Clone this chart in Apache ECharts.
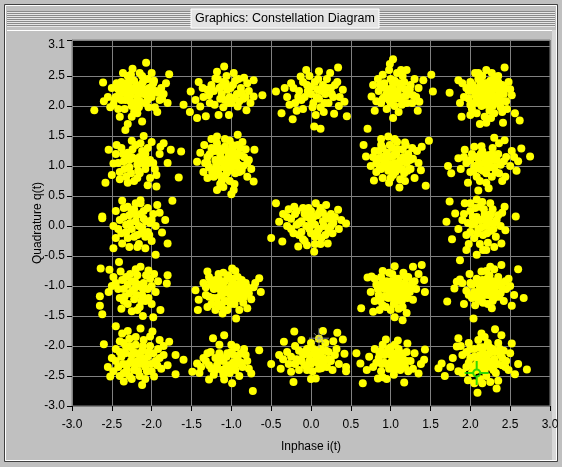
<!DOCTYPE html>
<html>
<head>
<meta charset="utf-8">
<script src="https://cdn.jsdelivr.net/npm/echarts@6/dist/echarts.min.js"></script>
<style>
html,body{margin:0;padding:0;background:#c0c0c0;}
#chart{width:562px;height:467px;}
</style>
</head>
<body>
<div id="chart"></div>
<script>
// ---- data ----
const xTicks = [-3.0,-2.5,-2.0,-1.5,-1.0,-0.5,0.0,0.5,1.0,1.5,2.0,2.5,3.0];
const yTickLabels = [-3.0,-2.5,-2.0,-1.5,-1.0,-0.5,0.0,0.5,1.0,1.5,2.0,2.5,3.1];

const ptsTopA = [[-2.72,1.93],[-2.61,2.39],[-2.5,2.3],[-2.45,2.15],[-2.48,2.02],[-2.42,1.95],[-2.38,2.4],[-2.35,2.25],[-2.33,2.1],[-2.3,2.5],[-2.28,2.32],[-2.26,2.18],[-2.25,2.0],[-2.22,2.42],[-2.2,2.28],[-2.18,2.12],[-2.16,1.98],[-2.15,2.55],[-2.13,2.35],[-2.1,2.2],[-2.08,2.05],[-2.07,2.72],[-2.05,2.45],[-2.03,2.3],[-2.0,2.15],[-1.98,2.38],[-1.95,2.25],[-1.93,1.9],[-1.9,2.1],[-1.88,2.3],[-1.85,2.2],[-1.8,2.05],[-1.78,2.53],[-1.82,2.38],[-2.33,1.6],[-2.3,1.7],[-2.25,1.82],[-2.12,1.74],[-2.18,1.88],[-2.4,1.82],[-2.55,2.15],[-2.52,1.98],[-2.36,2.55],[-2.24,2.62],[-2.12,2.5],[-2.0,2.55],[-2.42,2.28],[-2.27,2.08],[-2.14,2.25],[-2.05,2.1],[-1.96,1.98],[-2.38,2.1],[-2.2,1.95],[-2.6,2.08],
  [-2.4,2.2],[-2.36,2.32],[-2.31,2.18],[-2.29,2.4],[-2.24,2.25],[-2.21,2.05],[-2.19,2.35],[-2.17,2.18],[-2.11,2.4],[-2.09,2.28],[-2.06,2.17],[-2.04,1.98],[-2.01,2.25],[-1.97,2.42],[-1.92,2.22],[-2.44,2.38],[-2.34,1.95],[-2.22,1.9],[-2.15,2.08],[-2.28,2.25],[-2.0,2.32],[-1.87,2.12],[-2.47,2.1],[-2.26,2.52]];
const ptsTopB = [[-1.6,2.02],[-1.51,2.24],[-1.52,1.9],[-1.43,1.8],[-1.32,1.83],[-1.39,1.99],[-1.41,2.4],[-1.3,2.27],[-1.35,2.15],[-1.21,2.02],[-1.18,2.57],[-1.09,2.66],[-1.2,2.46],[-1.25,2.35],[-1.15,2.3],[-1.1,2.4],[-1.05,2.27],[-1.02,2.15],[-1.08,2.1],[-0.98,2.35],[-0.97,2.55],[-0.93,2.2],[-0.88,2.3],[-0.84,2.47],[-0.85,2.12],[-0.78,2.25],[-0.72,2.43],[-0.61,2.18],[-0.72,2.16],[-0.81,1.93],[-0.92,1.99],[-1.03,1.85],[-1.16,1.85],[-1.12,2.2],[-1.0,2.05],[-0.95,2.42],[-1.06,2.5],[-1.14,2.12],[-0.9,2.08],[-1.28,2.18],[-0.8,2.38],
  [-1.22,2.25],[-1.17,2.45],[-1.13,2.32],[-1.07,2.38],[-1.04,2.05],[-1.01,2.3],[-0.96,2.12],[-0.91,2.45],[-0.87,2.22],[-0.82,2.15],[-1.27,2.05],[-1.45,2.1],[-0.76,2.05],[-1.1,1.98],[-1.36,2.3]];
const ptsTopC = [[-0.44,2.24],[-0.37,1.88],[-0.23,1.78],[-0.25,2.38],[-0.13,2.49],[-0.3,2.15],[-0.2,2.05],[-0.15,2.25],[-0.1,1.95],[-0.05,2.35],[0.0,2.2],[0.03,2.05],[0.05,2.4],[0.08,2.28],[0.1,2.12],[0.12,1.98],[-0.08,2.15],[-0.02,2.5],[0.15,2.35],[0.18,2.2],[0.2,2.45],[0.22,2.05],[0.25,2.3],[0.28,2.15],[0.34,2.64],[0.4,2.27],[0.42,2.07],[0.45,1.83],[0.29,1.87],[0.12,1.62],[0.04,1.66],[0.1,2.58],[-0.18,1.92],[0.33,2.4],[0.35,2.0],[-0.33,2.3],[0.06,1.85],[-0.06,2.6],[0.16,1.9],[0.24,2.55],
  [-0.22,2.3],[-0.12,2.1],[-0.1,2.4],[0.0,2.32],[0.02,1.98],[0.07,2.15],[0.13,2.25],[0.17,2.05],[0.2,2.3],[0.26,2.2],[0.3,2.35],[-0.04,2.25],[-0.16,2.15],[0.09,2.45],[0.36,2.15],[-0.27,2.02]];
const ptsTopD = [[1.03,2.78],[0.99,2.7],[1.2,2.6],[0.9,2.52],[1.51,2.52],[1.41,2.43],[1.53,2.24],[1.36,2.07],[1.34,1.92],[1.03,1.8],[0.8,1.92],[0.76,2.16],[0.78,2.35],[0.71,1.62],[0.85,2.25],[0.88,2.05],[0.92,2.38],[0.95,2.2],[0.98,2.1],[1.0,2.45],[1.02,2.3],[1.05,2.0],[1.07,2.2],[1.1,2.38],[1.12,2.12],[1.15,2.5],[1.18,2.28],[1.2,2.05],[1.25,2.35],[1.28,2.18],[1.3,2.45],[0.95,1.95],[1.1,1.9],[0.84,2.45],[1.08,2.55],[1.22,2.22],[0.93,2.3],[1.0,2.05],[1.15,2.15],[1.35,2.3],[0.9,2.12],
  [0.87,2.35],[0.92,2.15],[0.96,2.28],[1.0,2.2],[1.03,2.38],[1.06,2.12],[1.09,2.25],[1.12,2.32],[1.14,2.02],[1.17,2.4],[1.2,2.18],[1.24,2.28],[0.98,2.6],[1.27,2.05],[0.82,2.08],[1.32,2.15],[1.05,2.42],[1.13,2.6]];
const ptsTopE = [[2.43,2.64],[1.74,2.22],[1.85,2.43],[1.89,1.82],[2.12,1.7],[2.2,1.72],[2.41,1.72],[2.62,1.76],[2.56,1.88],[2.52,2.18],[2.48,2.4],[2.27,2.55],[2.06,2.55],[1.87,2.05],[1.95,2.3],[1.98,2.12],[2.0,2.4],[2.02,1.95],[2.05,2.25],[2.08,2.1],[2.1,2.45],[2.12,2.3],[2.14,2.0],[2.16,2.18],[2.18,2.38],[2.2,2.25],[2.22,2.1],[2.24,1.92],[2.26,2.32],[2.28,2.18],[2.3,2.45],[2.32,2.05],[2.34,2.28],[2.36,2.15],[2.38,1.98],[2.4,2.35],[2.42,2.2],[2.45,2.08],[2.15,2.5],[2.25,2.42],[2.05,2.05],[2.3,1.88],[2.0,1.85],[2.35,2.5],[2.1,2.2],[2.22,2.3],[2.28,2.0],[1.92,2.15],[2.46,1.95],[2.18,1.82],
  [1.98,2.25],[2.0,2.02],[2.03,2.35],[2.06,2.18],[2.09,2.3],[2.11,2.05],[2.13,2.4],[2.15,2.12],[2.17,2.28],[2.19,2.02],[2.21,2.38],[2.23,2.18],[2.25,2.05],[2.27,2.25],[2.29,2.38],[2.31,2.12],[2.33,2.32],[2.37,2.22],[2.39,2.08],[2.43,2.3],[2.2,2.6],[2.1,2.55],[2.35,2.4],[2.4,1.9],[2.08,1.88],[1.9,2.38],[2.5,2.28],[2.26,1.8]];

const ptsUpA = [[-2.1,1.5],[-1.76,1.27],[-1.63,1.24],[-1.66,0.81],[-1.94,0.85],[-1.94,0.66],[-2.58,0.72],[-2.54,1.27],[-2.48,1.04],[-1.89,1.32],[-2.02,1.1],[-2.45,1.2],[-2.4,0.9],[-2.38,1.3],[-2.35,1.08],[-2.32,0.82],[-2.3,1.22],[-2.28,0.98],[-2.25,1.15],[-2.22,0.75],[-2.2,1.35],[-2.18,1.02],[-2.15,0.88],[-2.12,1.25],[-2.1,1.12],[-2.08,0.95],[-2.05,1.3],[-2.02,0.8],[-2.0,1.4],[-1.98,1.05],[-2.4,0.78],[-2.25,1.42],[-2.15,1.15],[-1.9,1.2],[-2.5,0.85],[-2.32,1.12],[-2.05,0.68],[-1.85,1.38],
  [-2.42,1.05],[-2.36,1.2],[-2.34,0.95],[-2.28,1.1],[-2.26,0.88],[-2.24,1.28],[-2.2,1.12],[-2.17,0.92],[-2.14,1.38],[-2.12,1.05],[-2.08,1.2],[-2.3,0.72],[-2.18,0.8],[-1.96,0.95],[-2.05,1.05],[-2.44,1.35],[-1.8,1.05]];
const ptsUpB = [[-1.18,1.49],[-0.92,1.52],[-0.71,1.27],[-0.72,0.74],[-1.0,0.53],[-1.18,0.6],[-1.43,1.07],[-1.39,1.22],[-1.35,0.9],[-1.3,1.15],[-1.28,0.98],[-1.25,1.3],[-1.22,0.82],[-1.2,1.1],[-1.18,1.38],[-1.16,0.95],[-1.14,1.2],[-1.12,0.75],[-1.1,1.05],[-1.08,1.32],[-1.06,0.88],[-1.04,1.15],[-1.02,1.42],[-1.0,0.98],[-0.98,1.25],[-0.96,0.7],[-0.94,1.08],[-0.92,1.35],[-0.9,0.9],[-0.88,1.18],[-0.85,1.0],[-0.82,1.28],[-0.8,0.82],[-0.78,1.1],[-1.1,0.65],[-1.3,0.8],[-1.05,1.0],[-1.15,1.1],[-0.95,1.0],[-1.2,0.95],[-0.86,1.4],[-1.25,1.45],[-0.75,0.95],[-1.0,1.2],[-1.08,0.8],[-1.34,1.35],
  [-1.3,1.05],[-1.27,1.2],[-1.24,0.9],[-1.21,1.25],[-1.19,1.02],[-1.17,1.3],[-1.15,0.85],[-1.13,1.12],[-1.11,1.28],[-1.09,0.98],[-1.07,1.1],[-1.05,1.25],[-1.03,0.92],[-1.01,1.08],[-0.99,1.35],[-0.97,1.12],[-0.95,0.88],[-0.93,1.2],[-0.91,1.02],[-0.89,1.3],[-0.87,0.92],[-0.84,1.15],[-1.02,0.75],[-1.14,0.7],[-1.33,1.05],[-1.08,1.45],[-0.8,1.05],[-0.97,0.6]];
const ptsUpD = [[0.66,1.35],[0.97,1.49],[1.18,1.39],[1.48,1.42],[1.39,1.32],[1.38,0.93],[1.44,0.67],[1.11,0.64],[0.79,0.76],[0.69,1.16],[0.75,1.0],[0.8,1.25],[0.82,0.9],[0.85,1.12],[0.88,1.35],[0.9,0.8],[0.92,1.05],[0.95,1.22],[0.97,0.92],[1.0,1.15],[1.02,1.3],[1.03,0.85],[1.05,1.05],[1.07,1.2],[1.1,0.95],[1.12,1.1],[1.15,1.28],[1.17,0.88],[1.2,1.05],[1.22,1.2],[1.25,0.95],[1.28,1.12],[1.3,0.8],[0.98,0.72],[0.86,1.0],[1.08,1.4],[1.33,1.25],[0.95,1.05],[1.05,0.95],[0.9,1.15],[1.18,0.75],
  [0.82,1.05],[0.85,1.25],[0.88,0.95],[0.9,1.3],[0.93,1.12],[0.96,0.98],[0.99,1.35],[1.01,1.02],[1.04,1.18],[1.06,0.9],[1.09,1.28],[1.11,1.05],[1.14,0.95],[1.16,1.15],[1.19,1.35],[1.21,0.92],[1.24,1.1],[1.27,1.3],[0.78,1.15],[1.0,0.8],[1.12,0.78],[1.35,1.05],[0.88,1.45],[1.05,1.45]];
const ptsUpE = [[2.3,1.47],[2.43,1.43],[2.64,1.29],[2.75,1.16],[2.58,0.92],[2.44,0.82],[2.23,0.63],[2.1,0.59],[1.97,0.72],[1.72,1.0],[1.76,0.88],[1.85,1.13],[1.93,1.27],[2.14,1.33],[1.95,1.05],[2.0,0.9],[2.02,1.2],[2.05,1.0],[2.08,0.82],[2.1,1.12],[2.12,0.95],[2.15,1.25],[2.18,1.05],[2.2,0.88],[2.22,1.18],[2.25,0.98],[2.28,1.3],[2.3,1.1],[2.32,0.9],[2.35,1.2],[2.38,1.02],[2.4,0.75],[2.45,1.15],[2.5,1.0],[2.52,1.25],[2.2,0.72],[2.05,1.32],[1.88,0.95],[2.36,1.38],[2.6,1.08],
  [2.0,1.1],[2.04,0.92],[2.07,1.15],[2.1,1.02],[2.13,1.2],[2.16,0.92],[2.19,1.12],[2.21,0.98],[2.24,1.08],[2.27,1.2],[2.3,0.98],[2.33,1.1],[2.36,0.88],[2.42,1.08],[2.27,0.82],[2.12,0.75],[1.92,1.15],[2.55,1.15]];

const ptsMidA = [[-2.62,0.13],[-2.48,0.0],[-2.48,-0.37],[-2.37,-0.29],[-2.08,-0.37],[-1.95,-0.48],[-1.8,-0.29],[-1.87,-0.11],[-1.83,0.1],[-1.93,0.35],[-2.14,0.38],[-2.37,0.42],[-2.14,0.43],[-1.74,0.42],[-2.62,0.16],[-2.45,0.25],[-2.4,0.1],[-2.38,-0.12],[-2.35,0.3],[-2.32,0.02],[-2.3,-0.2],[-2.28,0.18],[-2.25,-0.05],[-2.22,0.28],[-2.2,0.08],[-2.18,-0.15],[-2.16,-0.3],[-2.14,0.2],[-2.12,-0.02],[-2.1,0.12],[-2.08,-0.18],[-2.05,0.3],[-2.02,0.05],[-2.0,-0.25],[-1.98,0.2],[-2.28,-0.35],[-2.05,-0.1],[-2.2,0.38],
  [-2.42,-0.05],[-2.35,0.15],[-2.32,-0.1],[-2.27,0.05],[-2.25,0.25],[-2.22,-0.18],[-2.19,0.18],[-2.16,0.0],[-2.13,-0.12],[-2.1,0.25],[-2.07,0.08],[-2.03,-0.15],[-2.0,0.1],[-1.95,0.0],[-2.3,0.32],[-2.18,-0.35],[-1.9,0.22],[-2.45,-0.2]];
const ptsMidC = [[0.19,0.35],[0.34,0.27],[0.44,0.04],[0.27,-0.12],[0.21,-0.29],[0.04,-0.43],[-0.44,0.38],[-0.4,0.07],[-0.5,-0.2],[-0.36,-0.26],[-0.16,-0.34],[-0.21,0.32],[-0.3,0.15],[-0.25,-0.05],[-0.2,0.2],[-0.15,-0.15],[-0.12,0.08],[-0.1,0.3],[-0.08,-0.25],[-0.05,0.15],[-0.02,-0.05],[0.0,0.25],[0.02,0.05],[0.05,-0.18],[0.08,0.18],[0.1,-0.05],[0.12,0.3],[0.15,0.08],[0.18,-0.15],[0.22,0.12],[0.25,0.0],[0.3,0.15],[0.35,-0.05],[-0.05,-0.32],[0.12,-0.3],[-0.28,0.28],[0.06,0.38],[-0.18,0.02],[0.0,0.1],[0.15,0.22],
  [-0.3,0.0],[-0.25,0.12],[-0.22,-0.12],[-0.18,0.25],[-0.15,0.05],[-0.12,-0.1],[-0.08,0.2],[-0.06,0.0],[-0.03,0.3],[0.0,-0.12],[0.03,0.15],[0.05,0.02],[0.08,-0.1],[0.1,0.22],[0.13,-0.2],[0.16,0.0],[0.19,0.15],[0.22,-0.08],[0.25,0.2],[0.28,0.05],[-0.1,-0.22],[0.05,-0.3],[-0.35,0.2],[0.38,0.1]];
const ptsMidE = [[1.74,0.41],[1.93,0.38],[1.7,0.07],[1.81,0.21],[1.77,-0.22],[1.95,-0.4],[2.08,-0.48],[2.16,-0.4],[2.39,-0.29],[2.44,-0.07],[2.57,0.16],[2.43,0.32],[1.87,-0.57],[2.08,0.44],[1.9,0.1],[1.95,-0.15],[2.0,0.25],[2.02,0.02],[2.05,-0.2],[2.08,0.15],[2.1,-0.05],[2.12,0.32],[2.14,0.1],[2.16,-0.15],[2.18,0.2],[2.2,0.0],[2.22,-0.28],[2.24,0.15],[2.26,-0.08],[2.28,0.28],[2.3,0.05],[2.32,-0.18],[2.35,0.18],[2.15,0.4],[2.25,0.38],[1.98,-0.3],[2.05,0.05],[2.3,-0.35],[2.12,-0.3],
  [1.92,0.2],[1.97,0.05],[2.0,-0.1],[2.03,0.15],[2.06,0.3],[2.09,-0.12],[2.11,0.1],[2.14,-0.02],[2.17,0.28],[2.19,0.1],[2.21,-0.12],[2.23,0.05],[2.26,0.2],[2.29,-0.05],[2.33,0.1],[2.38,0.0],[2.0,0.38],[1.85,-0.05],[2.2,-0.4],[2.4,0.22]];

const ptsLowA = [[-2.64,-0.71],[-2.53,-0.73],[-2.65,-1.17],[-2.65,-1.33],[-2.62,-1.47],[-2.11,-1.5],[-1.98,-1.52],[-1.89,-1.4],[-1.81,-0.96],[-1.8,-0.82],[-2.04,-0.74],[-2.14,-0.68],[-2.41,-0.6],[-2.39,-0.76],[-2.54,-1.1],[-2.45,-0.95],[-2.4,-1.2],[-2.35,-1.05],[-2.32,-0.85],[-2.3,-1.3],[-2.28,-1.12],[-2.25,-0.92],[-2.22,-1.22],[-2.2,-1.02],[-2.18,-0.82],[-2.15,-1.35],[-2.12,-1.15],[-2.1,-0.95],[-2.08,-1.25],[-2.05,-1.05],[-2.02,-0.88],[-2.0,-1.3],[-1.95,-1.1],[-2.25,-1.42],[-2.38,-1.38],[-2.2,-0.72],[-1.92,-0.92],[-2.48,-0.85],
  [-2.42,-1.05],[-2.37,-0.9],[-2.34,-1.18],[-2.3,-0.98],[-2.27,-0.8],[-2.24,-1.08],[-2.21,-0.92],[-2.19,-1.15],[-2.16,-0.98],[-2.13,-1.25],[-2.11,-1.05],[-2.07,-0.82],[-2.04,-1.2],[-2.0,-1.0],[-2.35,-1.25],[-2.18,-1.4],[-2.5,-1.0],[-1.97,-0.8]];
const ptsLowB = [[-1.3,-0.76],[-0.99,-0.71],[-0.65,-0.87],[-0.63,-1.1],[-0.8,-1.37],[-0.94,-1.54],[-1.11,-1.46],[-1.42,-1.4],[-1.45,-1.07],[-1.41,-1.23],[-1.35,-0.95],[-1.32,-1.15],[-1.28,-0.85],[-1.25,-1.3],[-1.22,-1.05],[-1.2,-0.9],[-1.18,-1.2],[-1.16,-0.8],[-1.14,-1.0],[-1.12,-1.35],[-1.1,-1.12],[-1.08,-0.92],[-1.06,-1.25],[-1.04,-0.82],[-1.02,-1.05],[-1.0,-1.18],[-0.98,-0.95],[-0.96,-1.3],[-0.94,-1.08],[-0.92,-0.85],[-0.9,-1.2],[-0.88,-1.0],[-0.85,-1.28],[-0.82,-0.95],[-0.78,-1.12],[-0.75,-1.22],[-0.72,-1.02],[-1.05,-1.4],[-1.15,-1.05],[-1.25,-0.98],[-0.95,-0.75],[-1.0,-1.0],[-1.2,-1.4],[-0.85,-1.08],
  [-1.32,-1.02],[-1.28,-1.18],[-1.26,-0.92],[-1.23,-1.2],[-1.2,-1.0],[-1.17,-1.3],[-1.15,-0.9],[-1.13,-1.15],[-1.11,-0.98],[-1.09,-1.25],[-1.07,-1.05],[-1.05,-0.88],[-1.03,-1.12],[-1.01,-1.3],[-0.99,-0.88],[-0.97,-1.12],[-0.95,-1.22],[-0.93,-0.98],[-0.9,-1.1],[-0.87,-0.9],[-0.84,-1.18],[-0.8,-1.02],[-1.1,-0.78],[-1.3,-1.35],[-0.9,-1.4],[-0.7,-0.95]];
const ptsLowD = [[0.71,-0.86],[0.63,-1.37],[0.78,-1.43],[1.05,-1.52],[1.15,-1.57],[1.28,-1.23],[1.43,-1.1],[1.42,-0.9],[1.39,-0.65],[1.28,-0.68],[1.05,-0.67],[0.76,-0.84],[0.75,-1.1],[0.8,-1.25],[0.82,-0.98],[0.85,-1.15],[0.88,-0.85],[0.9,-1.32],[0.92,-1.05],[0.95,-0.92],[0.97,-1.2],[1.0,-1.08],[1.02,-0.8],[1.04,-1.3],[1.06,-0.98],[1.08,-1.15],[1.1,-0.88],[1.12,-1.05],[1.14,-1.25],[1.16,-0.78],[1.18,-0.95],[1.2,-1.12],[1.22,-0.85],[1.25,-1.02],[1.3,-0.92],[0.9,-0.75],[1.0,-1.4],[0.86,-1.4],[1.1,-1.38],[0.95,-1.05],[1.05,-1.0],[1.35,-0.8],
  [0.84,-1.05],[0.87,-1.25],[0.89,-0.95],[0.92,-1.18],[0.94,-1.35],[0.96,-0.98],[0.99,-1.12],[1.01,-0.92],[1.03,-1.2],[1.05,-1.08],[1.07,-0.88],[1.09,-1.25],[1.11,-0.98],[1.13,-1.15],[1.15,-1.35],[1.17,-1.05],[1.19,-0.85],[1.21,-1.2],[1.24,-1.1],[1.27,-0.95],[0.8,-0.88],[1.32,-1.05],[0.98,-0.78],[1.2,-1.45]];
const ptsLowE = [[1.83,-0.93],[1.8,-1.04],[1.71,-1.26],[1.87,-0.89],[1.99,-0.8],[2.14,-0.76],[2.25,-0.68],[2.39,-0.65],[2.6,-0.72],[2.67,-1.2],[2.52,-1.33],[2.27,-1.37],[2.04,-1.54],[2.06,-1.32],[2.02,-1.2],[1.95,-1.08],[2.0,-0.95],[2.05,-1.1],[2.08,-0.88],[2.1,-1.22],[2.12,-1.02],[2.15,-0.9],[2.18,-1.15],[2.2,-0.98],[2.22,-1.3],[2.24,-0.82],[2.26,-1.08],[2.28,-0.92],[2.3,-1.2],[2.32,-1.0],[2.35,-0.85],[2.38,-1.12],[2.4,-0.95],[2.42,-1.25],[2.45,-1.05],[2.48,-0.88],[2.3,-0.72],[2.16,-1.28],[1.92,-1.3],[2.55,-1.15],
  [1.98,-1.15],[2.02,-0.98],[2.06,-1.18],[2.09,-0.95],[2.12,-1.12],[2.14,-1.25],[2.17,-0.98],[2.19,-1.08],[2.21,-0.88],[2.23,-1.15],[2.25,-1.02],[2.28,-1.25],[2.31,-1.1],[2.34,-0.95],[2.36,-1.18],[2.4,-1.05],[2.44,-0.92],[2.2,-0.75],[1.9,-0.95],[2.5,-1.0]];

const ptsBotA = [[-2.45,-1.67],[-2.37,-1.79],[-2.6,-1.97],[-2.52,-2.51],[-2.35,-2.59],[-2.12,-2.65],[-1.97,-2.51],[-1.8,-2.32],[-1.7,-2.47],[-1.6,-2.23],[-1.7,-2.15],[-1.78,-1.93],[-2.02,-1.84],[-2.14,-1.71],[-1.99,-1.76],[-2.5,-2.2],[-2.45,-2.05],[-2.42,-2.35],[-2.4,-1.92],[-2.38,-2.18],[-2.35,-2.45],[-2.32,-2.02],[-2.3,-2.3],[-2.28,-1.88],[-2.25,-2.15],[-2.22,-2.4],[-2.2,-1.98],[-2.18,-2.25],[-2.15,-2.5],[-2.12,-2.08],[-2.1,-1.9],[-2.08,-2.35],[-2.05,-2.18],[-2.02,-2.0],[-2.0,-2.42],[-1.95,-2.25],[-1.92,-2.05],[-1.88,-2.38],[-1.85,-2.15],[-2.55,-2.35],[-2.25,-2.55],[-2.08,-2.55],[-1.9,-1.9],[-2.4,-2.5],[-2.3,-1.75],[-2.15,-2.3],[-2.26,-2.02],
  [-2.45,-2.25],[-2.4,-2.1],[-2.36,-2.3],[-2.33,-2.12],[-2.31,-2.4],[-2.28,-2.0],[-2.26,-2.25],[-2.23,-2.1],[-2.21,-2.32],[-2.19,-2.12],[-2.17,-2.42],[-2.14,-2.18],[-2.11,-2.0],[-2.09,-2.25],[-2.06,-2.42],[-2.04,-2.1],[-2.01,-2.3],[-1.98,-2.12],[-1.93,-2.32],[-1.9,-2.2],[-2.2,-1.85],[-2.35,-1.95],[-2.28,-2.5],[-1.85,-2.0],[-2.48,-2.42]];
const ptsBotB = [[-1.49,-2.43],[-1.43,-2.29],[-1.3,-2.12],[-1.23,-1.87],[-1.09,-1.82],[-1.15,-1.98],[-1.28,-2.56],[-1.09,-2.56],[-0.99,-2.62],[-0.73,-2.75],[-0.75,-2.46],[-0.65,-2.07],[-0.84,-2.05],[-0.86,-2.35],[-1.38,-2.35],[-1.32,-2.25],[-1.25,-2.38],[-1.2,-2.2],[-1.18,-2.32],[-1.15,-2.12],[-1.12,-2.4],[-1.1,-2.25],[-1.06,-2.18],[-1.04,-2.32],[-1.02,-2.45],[-1.0,-2.1],[-0.98,-2.28],[-0.95,-2.4],[-0.92,-2.2],[-0.9,-2.5],[-0.88,-2.12],[-0.8,-2.25],[-0.78,-2.38],[-1.0,-1.98],[-1.22,-2.48],[-0.94,-2.02],
  [-1.35,-2.2],[-1.28,-2.32],[-1.2,-2.4],[-1.16,-2.25],[-1.13,-2.2],[-1.08,-2.38],[-1.05,-2.12],[-1.0,-2.35],[-0.97,-2.15],[-0.93,-2.3],[-0.88,-2.28],[-1.1,-2.48],[-1.26,-2.1],[-0.82,-2.15],[-1.4,-2.45]];
const ptsBotC = [[-0.5,-2.3],[-0.4,-2.15],[-0.34,-1.93],[-0.21,-1.76],[-0.25,-2.43],[-0.22,-2.6],[0.33,-1.78],[0.4,-1.89],[0.42,-2.13],[0.44,-2.35],[0.44,-2.42],[0.06,-2.54],[0.13,-2.37],[-0.3,-2.1],[-0.28,-2.3],[-0.2,-2.0],[-0.18,-2.22],[-0.15,-2.4],[-0.12,-1.9],[-0.1,-2.15],[-0.08,-2.32],[-0.05,-2.05],[-0.02,-2.25],[0.0,-1.95],[0.02,-2.42],[0.05,-2.12],[0.08,-2.28],[0.1,-1.88],[0.12,-2.05],[0.15,-2.2],[0.18,-1.95],[0.2,-2.35],[0.22,-2.1],[0.25,-2.25],[0.28,-1.92],[0.3,-2.15],[0.35,-2.3],[-0.38,-2.38],[0.0,-2.55],[0.15,-1.75],
  [-0.25,-2.18],[-0.2,-2.3],[-0.15,-2.08],[-0.12,-2.25],[-0.08,-2.1],[-0.05,-2.4],[-0.02,-2.15],[0.0,-2.3],[0.03,-2.05],[0.06,-2.22],[0.1,-2.38],[0.12,-2.15],[0.16,-2.3],[0.19,-2.08],[0.23,-2.22],[0.27,-2.4],[-0.35,-2.22],[0.32,-2.05]];
const ptsBotD = [[0.57,-2.12],[0.62,-2.29],[0.65,-2.62],[0.94,-1.89],[1.09,-1.91],[1.21,-1.96],[1.43,-2.06],[1.42,-2.23],[1.35,-2.46],[1.17,-2.61],[0.84,-2.54],[0.73,-2.18],[0.78,-2.35],[0.8,-2.05],[0.85,-2.2],[0.88,-2.42],[0.9,-1.98],[0.92,-2.28],[0.95,-2.12],[0.98,-2.38],[1.0,-2.02],[1.02,-2.25],[1.04,-2.48],[1.06,-2.15],[1.08,-2.32],[1.1,-2.05],[1.12,-2.4],[1.15,-2.2],[1.18,-2.35],[1.2,-2.1],[1.25,-2.25],[1.28,-2.38],[1.3,-2.12],[0.95,-2.55],[1.0,-2.15],[0.88,-2.08],[1.12,-2.28],[0.7,-2.4],
  [0.82,-2.28],[0.86,-2.12],[0.89,-2.3],[0.92,-2.15],[0.95,-2.3],[0.97,-2.05],[1.0,-2.28],[1.03,-2.12],[1.05,-2.38],[1.08,-2.2],[1.1,-2.3],[1.13,-2.12],[1.16,-2.28],[1.2,-2.25],[1.22,-2.42],[0.9,-2.52],[1.05,-1.98],[1.38,-2.3]];
const ptsBotE = [[2.31,-1.72],[2.14,-1.79],[1.85,-1.87],[1.83,-2.01],[1.64,-2.29],[1.6,-2.37],[1.68,-2.5],[1.97,-2.57],[2.09,-2.78],[2.33,-2.71],[2.56,-2.47],[2.71,-2.39],[2.52,-1.96],[2.39,-1.82],[1.9,-2.15],[1.95,-2.35],[1.98,-1.95],[2.0,-2.2],[2.02,-2.45],[2.05,-2.05],[2.08,-2.3],[2.1,-1.9],[2.12,-2.15],[2.14,-2.4],[2.16,-2.02],[2.18,-2.25],[2.2,-2.5],[2.22,-1.95],[2.24,-2.12],[2.26,-2.35],[2.28,-2.05],[2.3,-2.22],[2.32,-2.45],[2.35,-1.95],[2.38,-2.15],[2.4,-2.32],[2.42,-2.08],[2.45,-2.25],[2.48,-2.4],[1.78,-2.2],[1.85,-2.42],[2.25,-2.6],[2.05,-2.62],[2.5,-2.12],[2.18,-1.85],[1.75,-2.35],[2.12,-2.55],
  [1.95,-2.1],[1.98,-2.28],[2.0,-2.05],[2.03,-2.35],[2.05,-2.18],[2.07,-2.4],[2.1,-2.22],[2.12,-2.02],[2.14,-2.3],[2.16,-2.12],[2.18,-2.4],[2.2,-2.18],[2.22,-2.32],[2.24,-2.02],[2.27,-2.25],[2.29,-2.4],[2.31,-2.1],[2.34,-2.3],[2.37,-2.05],[2.4,-2.2],[2.44,-2.35],[1.9,-2.45],[2.15,-2.62],[2.35,-2.58],[1.88,-2.0],[2.6,-2.3]];

const cursorGray = [[0.10,-1.87]];
const cursorGreen = [[2.08,-2.45]];

// ---- chart ----
const allPoints = [].concat(ptsTopA, ptsTopB, ptsTopC, ptsTopD, ptsTopE,
  ptsUpA, ptsUpB, ptsUpD, ptsUpE, ptsMidA, ptsMidC, ptsMidE,
  ptsLowA, ptsLowB, ptsLowD, ptsLowE, ptsBotA, ptsBotB, ptsBotC, ptsBotD, ptsBotE);

const chart = echarts.init(document.getElementById('chart'), null, {renderer:'canvas'});
const FONT = 'Liberation Sans, Arial, sans-serif';
const fmtX = v => (Math.abs(v) < 1e-9 ? 0 : v).toFixed(1);
const fmtY = v => { const s = (Math.abs(v) < 1e-9 ? 0 : v).toFixed(1); return s === '3.1' ? '{top|3.1}' : s; };

const stripes = [];
for (let y = 11; y <= 26; y += 2) {
  stripes.push({type:'line', shape:{x1:7,y1:y+0.5,x2:555,y2:y+0.5}, style:{stroke:'#8a8a8a', lineWidth:1}, silent:true});
  stripes.push({type:'line', shape:{x1:7,y1:y+1.5,x2:555,y2:y+1.5}, style:{stroke:'#e6e6e6', lineWidth:1}, silent:true});
}

chart.setOption({
  backgroundColor: '#c0c0c0',
  animation: false,
  grid: {left:72, right:12, top:40, bottom:61, show:true, backgroundColor:'#000', borderColor:'#808080', borderWidth:1},
  xAxis: {
    type:'value', min:-3, max:3, interval:0.5,
    name:'Inphase i(t)', nameLocation:'middle', nameGap:35, nameMoveOverlap:false,
    nameTextStyle:{color:'#000', fontFamily:FONT, fontSize:12},
    axisLine:{show:true, onZero:false, lineStyle:{color:'#808080'}},
    axisTick:{show:true, length:5, lineStyle:{color:'#000'}},
    axisLabel:{color:'#000', fontFamily:FONT, fontSize:12, margin:13, formatter:fmtX, showMinLabel:true, showMaxLabel:true},
    splitLine:{show:true, lineStyle:{color:'#808080', width:1}}
  },
  yAxis: [{
    type:'value', min:-3, max:3.1,
    name:'Quadrature q(t)', nameLocation:'middle', nameGap:28, nameMoveOverlap:false,
    nameTextStyle:{color:'#000', fontFamily:FONT, fontSize:12},
    axisLine:{show:true, onZero:false, lineStyle:{color:'#808080'}},
    axisTick:{show:true, length:5, lineStyle:{color:'#000'}, customValues: yTickLabels},
    axisLabel:{color:'#000', fontFamily:FONT, fontSize:12, margin:7, formatter:fmtY, customValues: yTickLabels,
      rich:{top:{color:'#000', fontFamily:FONT, fontSize:12, padding:[9,0,0,0]}}},
    splitLine:{show:false}
  },{
    type:'value', min:-3, max:3.1, interval:0.5, position:'left',
    axisLine:{show:false, onZero:false}, axisTick:{show:false}, axisLabel:{show:false},
    splitLine:{show:true, lineStyle:{color:'#808080', width:1}}
  }],
  series: [{
    type:'scatter', data: allPoints, symbol:'circle', symbolSize:8,
    itemStyle:{color:'#ffff00', opacity:1}, silent:true
  },{
    type:'scatter', data: cursorGray, symbol:'path://M0,-10 L0,10 M-10,0 L10,0 M-5,-5 L5,5 M-5,5 L5,-5', symbolSize:20,
    itemStyle:{color:'rgba(0,0,0,0)', borderColor:'#a8a8a8', borderWidth:1}, silent:true, z:5
  },{
    type:'scatter', data: cursorGreen, symbol:'path://M-12,0 L-4,0 M4,0 L12,0 M0,-12 L0,-4 M0,4 L0,12 M-3.5,0 A3.5,3.5 0 1,1 3.5,0 A3.5,3.5 0 1,1 -3.5,0 Z', symbolSize:24,
    itemStyle:{color:'rgba(0,0,0,0)', borderColor:'#00d000', borderWidth:2}, silent:true, z:5
  }],
  graphic: [
    {type:'rect', shape:{x:4.5,y:4.5,width:553,height:457}, style:{fill:'none', stroke:'#404040', lineWidth:1}, silent:true},
    {type:'rect', shape:{x:5.5,y:5.5,width:551,height:455}, style:{fill:'none', stroke:'#ffffff', lineWidth:1}, silent:true},
    {type:'rect', shape:{x:7,y:30,width:546,height:1}, style:{fill:'#ffffff'}, silent:true},
    {type:'rect', shape:{x:552,y:30,width:4,height:430}, style:{fill:'#d8d8d8'}, silent:true}
  ].concat(stripes).concat([
    {type:'rect', shape:{x:191,y:9,width:188,height:19}, style:{fill:'#e4e4e4', stroke:'#ffffff', lineWidth:1}, silent:true},
    {type:'text', x:285, y:19, style:{text:'Graphics: Constellation Diagram', fill:'#000', font:'12.5px '+FONT, align:'center', verticalAlign:'middle'}, silent:true}
  ])
});
</script>
</body>
</html>
